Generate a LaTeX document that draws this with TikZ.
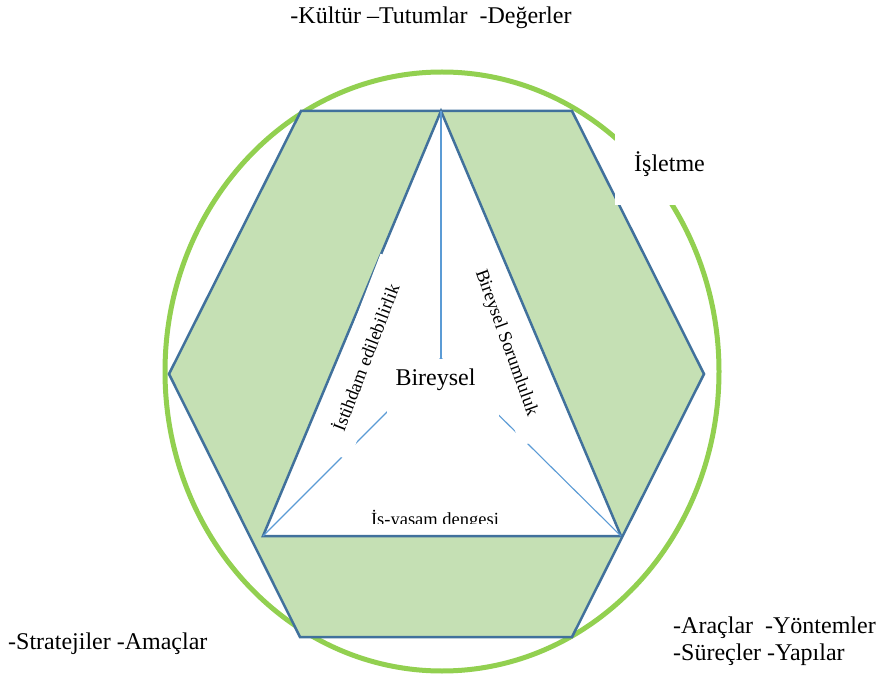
\documentclass[tikz,border=0pt]{standalone}
\usepackage{fontspec}
\setmainfont{Liberation Serif}
\definecolor{circgreen}{HTML}{92D050}
\definecolor{hexfill}{HTML}{C5E0B4}
\definecolor{hexblue}{HTML}{41719C}
\definecolor{spokeblue}{HTML}{5B9BD5}
\begin{document}
\begin{tikzpicture}[x=1pt,y=-1pt,
  ring/.style={draw=circgreen,line width=5pt},
  hexline/.style={draw=hexblue,line width=2.5pt,line join=miter},
  spoke/.style={draw=spokeblue,line width=1.1pt},
  whitebox/.style={fill=white,inner sep=0pt},
  bigtxt/.style={font=\fontsize{24}{27.6}\selectfont,inner sep=0pt},
  smalltxt/.style={font=\fontsize{18.5}{21}\selectfont,inner sep=0pt}]
\useasboundingbox (0,0) rectangle (879,679);
% outer ring
\draw[ring] (442,371.5) ellipse [x radius=277, y radius=299.5];
% hexagon
\coordinate (h1) at (301,111);
\coordinate (h2) at (572,111);
\coordinate (h3) at (704,374);
\coordinate (h4) at (572,637);
\coordinate (h5) at (300,637);
\coordinate (h6) at (169,374);
\path[fill=hexfill,hexline] (h1)--(h2)--(h3)--(h4)--(h5)--(h6)--cycle;
% triangle
\coordinate (t1) at (441,111);
\coordinate (t2) at (263,536);
\coordinate (t3) at (621,536);
\path[fill=white,hexline] (t1)--(t2)--(t3)--cycle;
% spokes
\coordinate (c) at (441,358);
\draw[spoke] (t1)--(c);
\draw[spoke] (t2)--(c);
\draw[spoke] (t3)--(c);
% white boxes
\node[whitebox,minimum width=109,minimum height=75] (islbox) at (669.5,167.5) {};
\node[whitebox,minimum width=112,minimum height=71] (birbox) at (443,394.5) {};
% texts
\node[bigtxt,anchor=base] (top) at (431,24) {-Kültür –Tutumlar\ \ -Değerler};
\node[bigtxt,anchor=base] (isl) at (669.5,172) {İşletme};
\node[bigtxt,anchor=base] (bir) at (435.5,385) {Bireysel};
\node[smalltxt,fill=white,rotate=69,minimum width=204,minimum height=45] (ist) at (365,357) {İstihdam edilebilirlik};
\node[smalltxt,fill=white,rotate=-70,minimum width=204,minimum height=43] (sor) at (506,343) {Bireysel Sorumluluk};
\begin{scope}
  \clip (300,490) rectangle (560,523.5);
  \node[smalltxt,anchor=base] (isy) at (435,525.5) {İş-yaşam dengesi};
\end{scope}
\node[bigtxt,anchor=base west] (strat) at (8,649.5) {-Stratejiler -Amaçlar};
\node[bigtxt,anchor=base west] (arac) at (673,633) {-Araçlar\ \ -Yöntemler};
\node[bigtxt,anchor=base west] (surec) at (673,660) {-Süreçler -Yapılar};
\end{tikzpicture}
\end{document}
